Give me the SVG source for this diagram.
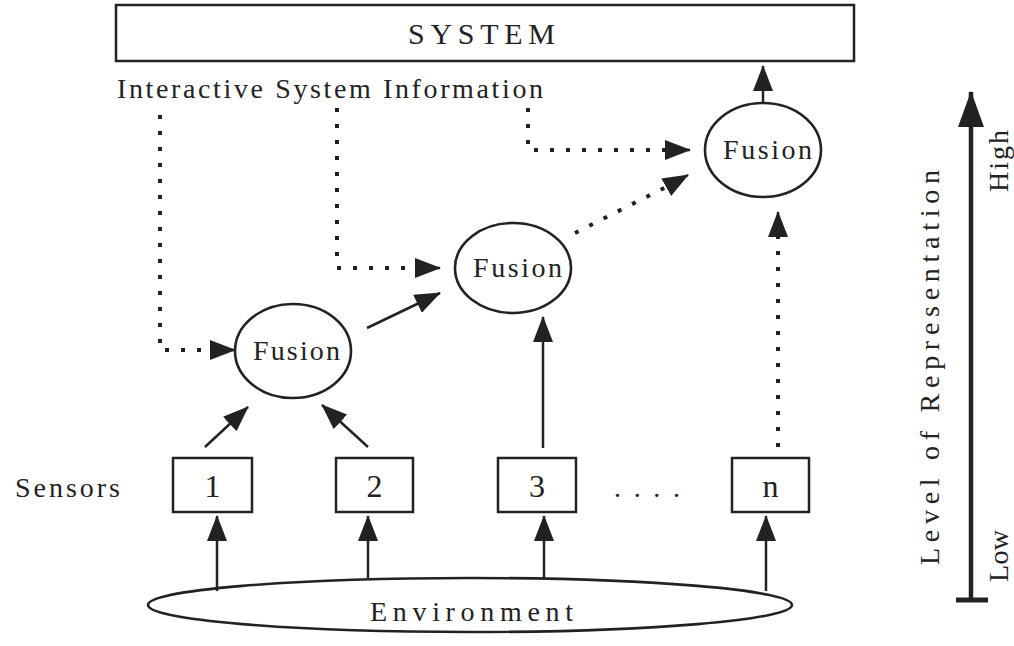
<svg xmlns="http://www.w3.org/2000/svg" width="1014" height="646" viewBox="0 0 1014 646">
<style>
.t{font-family:"Liberation Serif","Times New Roman",serif;font-size:28px;fill:#222}
.box{fill:#fff;stroke:#222;stroke-width:2.5}
.ell{fill:#fff;stroke:#222;stroke-width:2.6}
.ln{fill:none;stroke:#222;stroke-width:2.5}
.dot{fill:none;stroke:#222;stroke-width:4;stroke-dasharray:4 12}
.num{font-size:32px}
</style>
<defs>
<marker id="ah" viewBox="0 0 26 20" markerWidth="26" markerHeight="20" refX="25" refY="10" orient="auto" markerUnits="userSpaceOnUse">
<path d="M0,0 L26,10 L0,20 z" fill="#222"/>
</marker>
<marker id="big" viewBox="0 0 36 26" markerWidth="36" markerHeight="26" refX="35" refY="13" orient="auto" markerUnits="userSpaceOnUse">
<path d="M0,0 L36,13 L0,26 z" fill="#222"/>
</marker>
</defs>
<rect width="1014" height="646" fill="#fff"/>

<g id="system">
<rect class="box" x="116" y="5" width="738" height="56"/>
<text class="t" x="408" y="44" textLength="147" lengthAdjust="spacing" style="font-size:30px">SYSTEM</text>
</g>
<g id="interactive">
<text class="t" x="117" y="98" textLength="426" lengthAdjust="spacing">Interactive System Information</text>
</g>

<g id="fusion1">
<ellipse class="ell" cx="293" cy="351" rx="58" ry="47"/>
<text class="t" x="253" y="360" textLength="87" lengthAdjust="spacing">Fusion</text>
</g>
<g id="fusion2">
<ellipse class="ell" cx="513" cy="268" rx="58" ry="45"/>
<text class="t" x="473" y="277" textLength="89" lengthAdjust="spacing">Fusion</text>
</g>
<g id="fusion3">
<ellipse class="ell" cx="763" cy="150" rx="58" ry="47"/>
<text class="t" x="723" y="159" textLength="89" lengthAdjust="spacing">Fusion</text>
</g>

<g id="sensors-label">
<text class="t" x="15" y="497" textLength="105" lengthAdjust="spacing">Sensors</text>
</g>
<g id="sensor1">
<rect class="box" x="173" y="458" width="79" height="54"/>
<text class="t num" x="212.5" y="497" text-anchor="middle">1</text>
</g>
<g id="sensor2">
<rect class="box" x="336" y="458" width="77" height="54"/>
<text class="t num" x="374.5" y="497" text-anchor="middle">2</text>
</g>
<g id="sensor3">
<rect class="box" x="498" y="458" width="78" height="54"/>
<text class="t num" x="537" y="497" text-anchor="middle">3</text>
</g>
<g id="ellipsis">
<text class="t" x="614" y="497" textLength="66" lengthAdjust="spacing">....</text>
</g>
<g id="sensorn">
<rect class="box" x="732" y="458" width="77" height="54"/>
<text class="t num" x="770.5" y="497" text-anchor="middle">n</text>
</g>

<g id="environment">
<ellipse class="ell" cx="470" cy="605" rx="322" ry="27"/>
<text class="t" x="370" y="621" textLength="203" lengthAdjust="spacing">Environment</text>
</g>

<g id="connectors">
<path class="ln" d="M217,591 L217,516" marker-end="url(#ah)"/>
<path class="ln" d="M368,578 L368,516" marker-end="url(#ah)"/>
<path class="ln" d="M544,578 L544,516" marker-end="url(#ah)"/>
<path class="ln" d="M766,591 L766,516" marker-end="url(#ah)"/>
<path class="ln" d="M205,447 L248,407" marker-end="url(#ah)"/>
<path class="ln" d="M368,447 L322,405" marker-end="url(#ah)"/>
<path class="ln" d="M543,448 L543,317" marker-end="url(#ah)"/>
<path class="dot" d="M778,447 L778,230"/>
<path class="ln" d="M778,232 L778,212" marker-end="url(#ah)"/>
<path class="ln" d="M367,328 L440,293" marker-end="url(#ah)"/>
<path class="dot" d="M575,233 L672,184"/>
<path class="ln" d="M672,184 L688,175" marker-end="url(#ah)"/>
<path class="ln" d="M763,103 L763,66" marker-end="url(#ah)"/>
<path class="dot" d="M160,115 L160,350 L218,350"/>
<path class="ln" d="M218,350 L235,350" marker-end="url(#ah)"/>
<path class="dot" d="M337,108 L337,268 L423,268"/>
<path class="ln" d="M423,268 L440,268" marker-end="url(#ah)"/>
<path class="dot" d="M528,108 L528,150 L673,150"/>
<path class="ln" d="M673,150 L690,150" marker-end="url(#ah)"/>
</g>

<g id="axis">
<path d="M971,600 L971,92" fill="none" stroke="#222" stroke-width="4.5" marker-end="url(#big)"/>
<path d="M956,600 L988,600" fill="none" stroke="#222" stroke-width="5"/>
<text class="t" transform="translate(939,565) rotate(-90)" textLength="395" lengthAdjust="spacing">Level of Representation</text>
<text class="t" transform="translate(1008,192) rotate(-90)" textLength="62" lengthAdjust="spacing">High</text>
<text class="t" transform="translate(1008,582) rotate(-90)" textLength="52" lengthAdjust="spacing">Low</text>
</g>
</svg>
